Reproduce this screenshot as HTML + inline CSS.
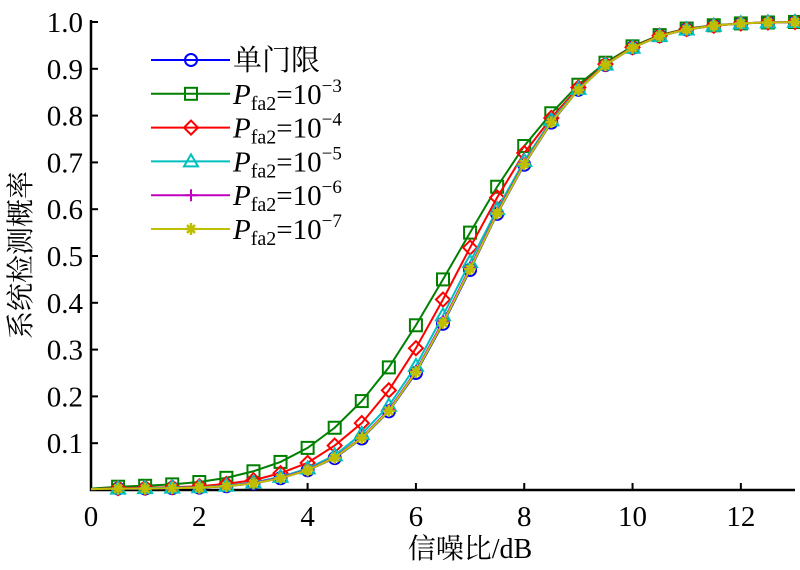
<!DOCTYPE html>
<html><head><meta charset="utf-8"><style>
html,body{margin:0;padding:0;background:#fff;}
svg{display:block;}
svg text{font-family:"Liberation Serif","Noto Serif CJK SC",serif;}
</style></head><body>
<svg id="chart" width="800" height="570">
<text x="470" y="558" font-size="28" text-anchor="middle" font-family="Liberation Serif, Noto Serif CJK SC, serif">信噪比/dB</text>
<text transform="translate(30,255) rotate(-90)" font-size="28" text-anchor="middle" font-family="Liberation Serif, Noto Serif CJK SC, serif">系统检测概率</text>
<g id="axes"></g><g id="series"></g><g id="legend"></g>
</svg>
<script>
const snr = [0,0.5,1,1.5,2,2.5,3,3.5,4,4.5,5,5.5,6,6.5,7,7.5,8,8.5,9,9.5,10,10.5,11,11.5,12,12.5,13];
const single = [0.002,0.003,0.003,0.004,0.005,0.008,0.014,0.025,0.042,0.068,0.11,0.168,0.25,0.355,0.47,0.59,0.695,0.785,0.855,0.908,0.945,0.97,0.984,0.992,0.997,0.999,1.0];
const pfa3 = [0.003,0.007,0.009,0.012,0.017,0.026,0.04,0.06,0.09,0.133,0.19,0.262,0.352,0.45,0.55,0.648,0.735,0.805,0.866,0.913,0.948,0.972,0.986,0.993,0.997,0.999,1.0];
const pfa4 = [0.002,0.004,0.005,0.006,0.008,0.013,0.021,0.036,0.058,0.095,0.143,0.213,0.303,0.407,0.518,0.625,0.72,0.795,0.86,0.91,0.946,0.971,0.985,0.992,0.997,0.999,1.0];
const pfa5 = [0.002,0.003,0.004,0.005,0.006,0.009,0.016,0.028,0.046,0.074,0.12,0.18,0.265,0.373,0.487,0.6,0.703,0.79,0.857,0.909,0.945,0.97,0.984,0.992,0.997,0.999,1.0];
const pfa6 = [0.002,0.003,0.003,0.004,0.005,0.008,0.015,0.026,0.043,0.07,0.112,0.171,0.254,0.36,0.475,0.593,0.698,0.787,0.856,0.908,0.945,0.97,0.984,0.992,0.997,0.999,1.0];
const pfa7 = [0.002,0.003,0.003,0.004,0.005,0.008,0.014,0.025,0.042,0.069,0.111,0.169,0.252,0.357,0.472,0.591,0.696,0.786,0.855,0.908,0.945,0.97,0.984,0.992,0.997,0.999,1.0];
const xTicks = [0,2,4,6,8,10,12];
const yTicks = [0.1,0.2,0.3,0.4,0.5,0.6,0.7,0.8,0.9,1.0];
const yTickLabels = ["0.1","0.2","0.3","0.4","0.5","0.6","0.7","0.8","0.9","1.0"];
const legendLabels = ["单门限","-3","-4","-5","-6","-7"];

const NS="http://www.w3.org/2000/svg";
const FF="Liberation Serif, Noto Serif CJK SC, serif";
const X0=91,X1=795,XMAX=13,Y0=490,Y1=22;
const sx=v=>X0+(X1-X0)*v/XMAX;
const sy=v=>Y0-(Y0-Y1)*v;
function mk(tag,attrs,parent){const e=document.createElementNS(NS,tag);for(const k in attrs)e.setAttribute(k,attrs[k]);parent.appendChild(e);return e;}
const axes=document.getElementById('axes');
let a=mk('path',{d:`M${X0},${Y1-2}V${Y0}H${X1}`,stroke:'#000','stroke-width':2.5,fill:'none'},axes);


xTicks.forEach(t=>{
  const l=mk('line',{x1:sx(t),x2:sx(t),y1:Y0,y2:Y0-7,stroke:'#000','stroke-width':2},axes);
  
  
  const tx=mk('text',{x:sx(t),y:Y0+36,'font-size':29,'text-anchor':'middle','font-family':FF},axes);
  tx.textContent=t;
  
  
});
yTicks.forEach((t,i)=>{
  const l=mk('line',{x1:X0,x2:X0+7,y1:sy(t),y2:sy(t),stroke:'#000','stroke-width':2},axes);
  
  
  const tx=mk('text',{x:X0-8,y:sy(t)+10,'font-size':29,'text-anchor':'end','font-family':FF},axes);
  tx.textContent=yTickLabels[i];
  
  
});
function marker(type,x,y,c,g){
  const s=6;
  if(type==='o') return mk('circle',{cx:x,cy:y,r:s,fill:'none',stroke:c,'stroke-width':2},g);
  if(type==='s') return mk('rect',{x:x-s,y:y-s,width:2*s,height:2*s,fill:'none',stroke:c,'stroke-width':2},g);
  if(type==='d') return mk('path',{d:`M${x},${y-7}L${x+7},${y}L${x},${y+7}L${x-7},${y}Z`,fill:'none',stroke:c,'stroke-width':2},g);
  if(type==='^') return mk('path',{d:`M${x},${y-7}L${x+7},${y+5}L${x-7},${y+5}Z`,fill:'none',stroke:c,'stroke-width':2},g);
  if(type==='+') return mk('path',{d:`M${x-6},${y}H${x+6}M${x},${y-6}V${y+6}`,stroke:c,'stroke-width':2},g);
  return mk('path',{d:`M${x-6},${y}H${x+6}M${x},${y-6}V${y+6}M${x-4},${y-4}L${x+4},${y+4}M${x+4},${y-4}L${x-4},${y+4}`,stroke:c,'stroke-width':2.5},g);
}
const series=[
 {name:'single-threshold',data:single,c:'#0000ff',m:'o'},
 {name:'pfa2-1e-3',data:pfa3,c:'#008000',m:'s'},
 {name:'pfa2-1e-4',data:pfa4,c:'#ff0000',m:'d'},
 {name:'pfa2-1e-5',data:pfa5,c:'#00bfbf',m:'^'},
 {name:'pfa2-1e-6',data:pfa6,c:'#bf00bf',m:'+'},
 {name:'pfa2-1e-7',data:pfa7,c:'#bfbf00',m:'*'}];
const sg=document.getElementById('series');
series.forEach(s=>{
  const g=mk('g',{},sg);
  
  
  const p=mk('polyline',{points:snr.map((x,i)=>sx(x)+','+sy(s.data[i])).join(' '),fill:'none',stroke:s.c,'stroke-width':2},g);
  
  
  snr.forEach((x,i)=>{ if(i===0)return;
    const m=marker(s.m,sx(x),sy(s.data[i]),s.c,g);
    
    
  });
});
const lg=document.getElementById('legend');
series.forEach((s,i)=>{
  const y=60+i*33.8;
  const g=mk('g',{},lg);
  
  
  mk('line',{x1:151,x2:230,y1:y,y2:y,stroke:s.c,'stroke-width':2},g);
  marker(s.m,191,y,s.c,g);
  const t=mk('text',{x:233,y:y+10,'font-size':29,'font-family':FF},g);
  if(i===0){t.textContent=legendLabels[0];}
  else{
    t.innerHTML='<tspan font-style="italic">P</tspan><tspan font-size="20" dy="6">fa2</tspan><tspan dy="-6">=10</tspan><tspan font-size="19" dy="-12">'+'\u2212'+legendLabels[i].slice(1)+'</tspan>';
  }
  
  
});
</script>
</body></html>
